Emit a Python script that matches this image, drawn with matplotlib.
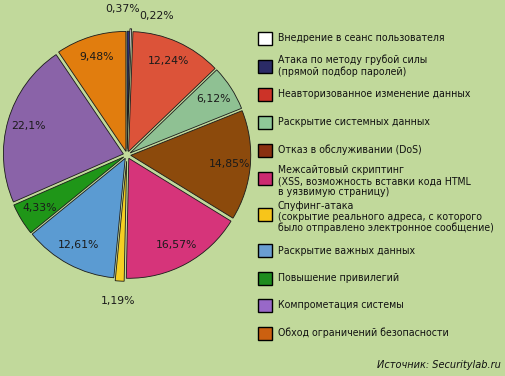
import numpy as np
import matplotlib
matplotlib.use("Agg")
import matplotlib.pyplot as plt
from matplotlib.patches import Rectangle

# data (legend order)
labels = [
    "Внедрение в сеанс пользователя",
    "Атака по методу грубой силы\n(прямой подбор паролей)",
    "Неавторизованное изменение данных",
    "Раскрытие системных данных",
    "Отказ в обслуживании (DoS)",
    "Межсайтовый скриптинг\n(XSS, возможность вставки кода HTML\nв уязвимую страницу)",
    "Спуфинг-атака\n(сокрытие реального адреса, с которого\nбыло отправлено электронное сообщение)",
    "Раскрытие важных данных",
    "Повышение привилегий",
    "Компрометация системы",
    "Обход ограничений безопасности",
]
values = [0.22, 0.37, 12.24, 6.12, 14.85, 16.57, 1.19, 12.61, 4.33, 22.1, 9.48]
pct_text = ["0,22%", "0,37%", "12,24%", "6,12%", "14,85%", "16,57%",
            "1,19%", "12,61%", "4,33%", "22,1%", "9,48%"]
colors = ["#ffffff", "#2e2f78", "#dc5339", "#8fc193", "#8c4a0c", "#d6347a",
          "#f5cf22", "#5b9bd2", "#1f9618", "#8a63a8", "#e17d0e"]
legend_colors = ["#ffffff", "#2b2b66", "#cc3328", "#8fc898", "#8a3010", "#cc2a70",
                 "#f7c51a", "#6a9ed2", "#1e8c1e", "#9868c8", "#cc6010"]
# order of slices clockwise from the top
pie_order = [1, 0, 2, 3, 4, 5, 6, 7, 8, 9, 10]

bg = "#c1d99b"
W, H = 505, 376
fig = plt.figure(figsize=(W / 100, H / 100), dpi=100, facecolor=bg)

# pie
cx, cy, r = 127, 155, 125
ax = fig.add_axes([(cx - r) / W, (H - cy - r) / H, 2 * r / W, 2 * r / H])
ax.set_facecolor(bg)
vals = [values[i] for i in pie_order]
cols = [colors[i] for i in pie_order]
explode = [0.03] * len(vals)
explode[pie_order.index(0)] = 0.05
explode[pie_order.index(6)] = 0.05
wedges, _ = ax.pie(vals, colors=cols, startangle=90, counterclock=False,
                   radius=0.96, explode=explode,
                   wedgeprops=dict(edgecolor="#1a1a1a", linewidth=0.6))
ax.set_xlim(-1, 1)
ax.set_ylim(-1, 1)
ax.set_aspect("equal")
ax.axis("off")

for w, idx in zip(wedges, pie_order):
    ang = np.deg2rad((w.theta1 + w.theta2) / 2)
    if values[idx] < 2:
        d = 1.17
    else:
        d = 0.82
    x, y = d * np.cos(ang), d * np.sin(ang)
    if idx == 1:
        x -= 0.05
    if idx == 0:
        x += 0.2
        y -= 0.06
    ax.text(x, y, pct_text[idx], ha="center", va="center", fontsize=7.8,
            color="#1a1a1a", clip_on=False)

# legend
box_y = [38, 66, 94, 122, 150, 178, 214, 250.5, 278, 305.5, 333]
text_y = [38, 66, 94, 122, 150, 181, 217, 250.5, 278, 305.5, 333]
for i in range(len(labels)):
    fig.patches.append(Rectangle((258 / W, 1 - (box_y[i] + 6.5) / H), 14 / W, 13 / H,
                                 transform=fig.transFigure, facecolor=legend_colors[i],
                                 edgecolor="black", linewidth=1.0))
    fig.text(278 / W, 1 - text_y[i] / H, labels[i], ha="left", va="center",
             fontsize=7.6, family="DejaVu Sans", fontstretch="condensed",
             linespacing=1.12, color="#111111")

fig.text(501 / W, 1 - 365 / H, "Источник: Securitylab.ru", ha="right", va="center",
         fontsize=7.8, family="DejaVu Sans", fontstretch="condensed",
         style="italic", color="#111111")

fig.savefig("out.png", dpi=100, facecolor=bg)
